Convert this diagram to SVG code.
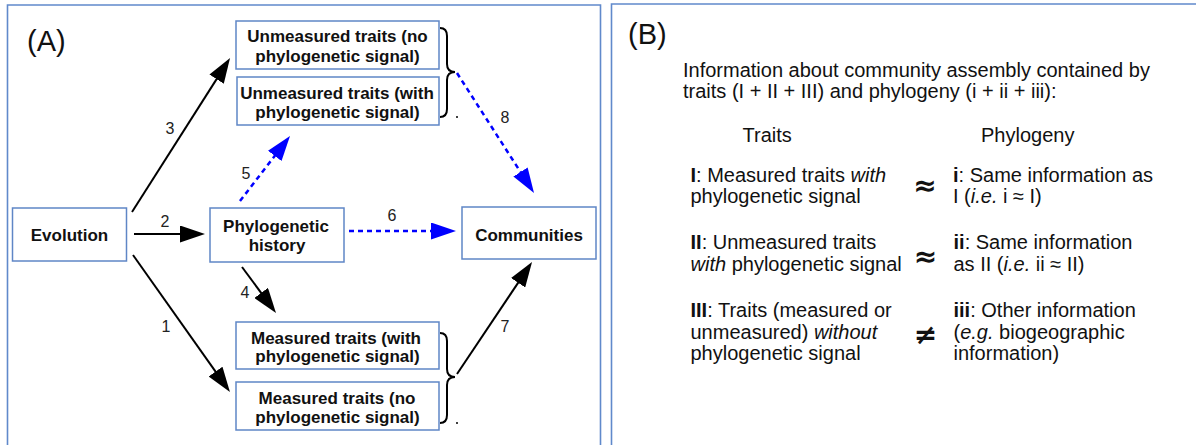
<svg xmlns="http://www.w3.org/2000/svg" width="1196" height="445" viewBox="0 0 1196 445">
<style>
.panel{fill:none;stroke:#6089cb;stroke-width:1.6}
.box{fill:#fff;stroke:#5f86c6;stroke-width:1.5}
.bt{font-family:"Liberation Sans",Arial,sans-serif;font-size:17px;font-weight:bold;fill:#111;text-anchor:middle}
.num{font-family:"Liberation Sans",Arial,sans-serif;font-size:16px;fill:#222;text-anchor:middle}
.tt{font-family:"Liberation Sans",Arial,sans-serif;font-size:20px;fill:#111}
.big{font-family:"Liberation Sans",Arial,sans-serif;font-size:29px;fill:#111}
.sym{font-family:"DejaVu Sans",sans-serif;font-size:28px;font-weight:bold;fill:#111;text-anchor:middle}
.solid{stroke:#000;stroke-width:2;fill:none;marker-end:url(#ahk)}
.dash{stroke:#0000ff;stroke-width:2.5;fill:none;stroke-dasharray:5 4;marker-end:url(#ahb)}
.brace{fill:none;stroke:#000;stroke-width:2}
</style>
<defs>
<marker id="ahk" viewBox="0 0 25 17" refX="5" refY="8.5" markerWidth="25" markerHeight="17" markerUnits="userSpaceOnUse" orient="auto">
<path d="M0,0 L25,8.5 L0,17 z" fill="#000"/>
</marker>
<marker id="ahb" viewBox="0 0 25 17" refX="5" refY="8.5" markerWidth="25" markerHeight="17" markerUnits="userSpaceOnUse" orient="auto">
<path d="M0,0 L25,8.5 L0,17 z" fill="#0000ff"/>
</marker>
</defs>
<rect width="1196" height="445" fill="#fff"/>
<!-- panels -->
<path class="panel" d="M7.5,450 V5 H600.5 V450"/>
<path class="panel" d="M611.5,450 V4 H1200"/>
<text class="big" x="27" y="51">(A)</text>
<text class="big" x="628" y="44">(B)</text>

<!-- connectors -->
<g id="connectors">
<line class="solid" x1="132" y1="212" x2="219.3" y2="74.9"/>
<line class="solid" x1="134" y1="234" x2="185" y2="234"/>
<line class="solid" x1="133" y1="255" x2="218.4" y2="375.7"/>
<line class="solid" x1="242" y1="267" x2="264.1" y2="296.9"/>
<line class="dash" x1="240" y1="201" x2="277.8" y2="151.9"/>
<line class="dash" x1="349" y1="231" x2="436" y2="231"/>
<line class="dash" x1="457" y1="73" x2="523.2" y2="176.2"/>
<line class="solid" x1="457" y1="374" x2="520.9" y2="278.6"/>
<path class="brace" d="M440,28 Q447,28 447,36 L447,64 Q447,72 455,72 Q447,72 447,80 L447,109 Q447,117 440,117"/>
<path class="brace" d="M440,333 Q447,333 447,341 L447,369 Q447,377 455,377 Q447,377 447,385 L447,415 Q447,423 440,423"/>
<circle cx="457" cy="117" r="1" fill="#000"/>
<circle cx="457" cy="423" r="1" fill="#000"/>
<text class="num" x="170" y="134">3</text>
<text class="num" x="165" y="227">2</text>
<text class="num" x="166" y="332">1</text>
<text class="num" x="245" y="298">4</text>
<text class="num" x="246" y="179">5</text>
<text class="num" x="392" y="221">6</text>
<text class="num" x="505" y="332">7</text>
<text class="num" x="505" y="123">8</text>
</g>

<!-- nodes -->
<g id="evolution">
<rect class="box" x="12.5" y="208" width="114" height="53"/>
<text class="bt" x="69.5" y="241">Evolution</text>
</g>
<g id="phylo">
<rect class="box" x="210" y="208" width="134" height="54"/>
<text class="bt" x="276" y="232">Phylogenetic</text>
<text class="bt" x="277" y="251">history</text>
</g>
<g id="communities">
<rect class="box" x="462" y="207" width="134" height="52"/>
<text class="bt" x="529" y="241">Communities</text>
</g>
<g id="unmeasured-no">
<rect class="box" x="236" y="21" width="203" height="48"/>
<text class="bt" x="337.5" y="42">Unmeasured traits (no</text>
<text class="bt" x="337.5" y="62">phylogenetic signal)</text>
</g>
<g id="unmeasured-with">
<rect class="box" x="237" y="77" width="202" height="48"/>
<text class="bt" x="337" y="98.5">Unmeasured traits (with</text>
<text class="bt" x="337.5" y="117.5">phylogenetic signal)</text>
</g>
<g id="measured-with">
<rect class="box" x="236" y="322" width="203" height="47"/>
<text class="bt" x="336" y="343.5">Measured traits (with</text>
<text class="bt" x="337.5" y="362">phylogenetic signal)</text>
</g>
<g id="measured-no">
<rect class="box" x="236" y="382" width="203" height="48"/>
<text class="bt" x="337" y="403.5">Measured traits (no</text>
<text class="bt" x="337.5" y="422.5">phylogenetic signal)</text>
</g>

<!-- panel B -->
<g id="panelB">
<text class="tt" x="683" y="77">Information about community assembly contained by</text>
<text class="tt" x="683" y="98">traits (I + II + III) and phylogeny (i + ii + iii):</text>
<text class="tt" x="742.5" y="142">Traits</text>
<text class="tt" x="981" y="142">Phylogeny</text>

<text class="tt" x="690.5" y="182"><tspan font-weight="bold">I</tspan>: Measured traits <tspan font-style="italic">with</tspan></text>
<text class="tt" x="690.5" y="203">phylogenetic signal</text>
<text class="sym" x="925" y="195">≈</text>
<text class="tt" x="953" y="182"><tspan font-weight="bold">i</tspan>: Same information as</text>
<text class="tt" x="953" y="203">I (<tspan font-style="italic">i.e.</tspan> i ≈ I)</text>

<text class="tt" x="690.5" y="249"><tspan font-weight="bold">II</tspan>: Unmeasured traits</text>
<text class="tt" x="690.5" y="271"><tspan font-style="italic">with</tspan> phylogenetic signal</text>
<text class="sym" x="925.5" y="266">≈</text>
<text class="tt" x="953.5" y="249"><tspan font-weight="bold">ii</tspan>: Same information</text>
<text class="tt" x="953.5" y="271">as II (<tspan font-style="italic">i.e.</tspan> ii ≈ II)</text>

<text class="tt" x="690.5" y="317"><tspan font-weight="bold">III</tspan>: Traits (measured or</text>
<text class="tt" x="690.5" y="338.5">unmeasured) <tspan font-style="italic">without</tspan></text>
<text class="tt" x="690.5" y="360">phylogenetic signal</text>
<text class="sym" x="925.5" y="343.5">≠</text>
<text class="tt" x="953.5" y="317"><tspan font-weight="bold">iii</tspan>: Other information</text>
<text class="tt" x="953.5" y="338.5">(<tspan font-style="italic">e.g.</tspan> biogeographic</text>
<text class="tt" x="953.5" y="360">information)</text>
</g>
</svg>
